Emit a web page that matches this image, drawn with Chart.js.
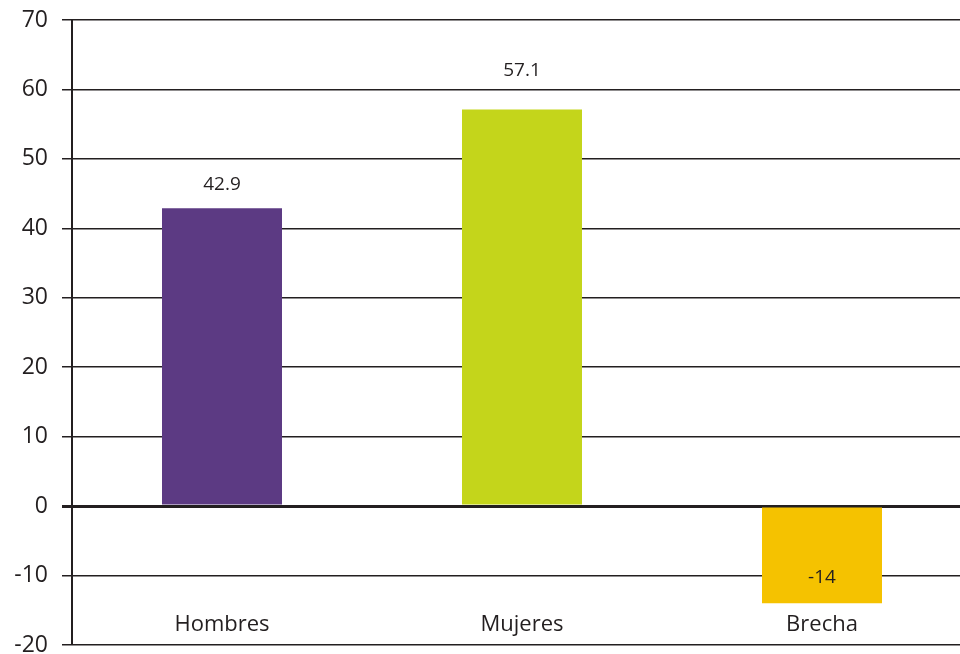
<!DOCTYPE html>
<html>
<head>
<meta charset="utf-8">
<script src="https://cdn.jsdelivr.net/npm/chart.js@4/dist/chart.umd.min.js"></script>
<style>
  html, body { margin: 0; padding: 0; background: #fff; overflow: hidden; }
  #wrap { width: 972px; height: 654px; }
</style>
</head>
<body>
<div id="wrap"><canvas id="myChart" width="972" height="654"></canvas></div>
<script>
// categorias y valores
const categories = ['Hombres', 'Mujeres', 'Brecha'];
const values = [42.9, 57.1, -14];
const valueLabels = ['42.9', '57.1', '-14'];
const barColors = ['#5c3a83', '#c4d51b', '#f5c200'];

const ink = '#231f20';
const fontName = '"Open Sans", "Liberation Sans", sans-serif';

// etiquetas de valor y de categoria dibujadas a mano
const labelsPlugin = {
    id: 'labelsPlugin',
    afterDatasetsDraw(chart) {
        const ctx = chart.ctx;
        const meta = chart.getDatasetMeta(0);
        const y = chart.scales.y;
        const x = chart.scales.x;
        const offsets = [24, 39, -26];
        ctx.save();
        ctx.fillStyle = ink;
        ctx.textAlign = 'center';
        ctx.textBaseline = 'middle';
        ctx.font = '19px ' + fontName;
        meta.data.forEach((bar, i) => {
            if (values[i] >= 0) {
                ctx.fillText(valueLabels[i], bar.x, bar.y - offsets[i]);
            } else {
                ctx.fillText(valueLabels[i], bar.x, bar.y + offsets[i]);
            }
        });
        ctx.font = '22px ' + fontName;
        categories.forEach((c, i) => {
            ctx.fillText(c, x.getPixelForValue(i), y.getPixelForValue(-17.1));
        });
        ctx.restore();
    }
};

const ctx = document.getElementById('myChart').getContext('2d');
const config = {
    type: 'bar',
    data: {
        labels: categories,
        datasets: [{
            data: values,
            backgroundColor: barColors,
            borderWidth: 0,
            barPercentage: 0.4,
            categoryPercentage: 1.0
        }]
    },
    options: {
        responsive: false,
        animation: false,
        layout: { padding: { top: 20, bottom: 9, left: 0, right: 0 } },
        plugins: {
            legend: { display: false },
            tooltip: { enabled: false }
        },
        scales: {
            x: {
                display: false
            },
            y: {
                min: -20,
                max: 70,
                ticks: {
                    stepSize: 10,
                    color: ink,
                    padding: 14,
                    font: { family: fontName, size: 23 }
                },
                grid: {
                    color: ink,
                    lineWidth: c => (c.tick && c.tick.value === 0 ? 3 : 1.5),
                    drawTicks: true,
                    tickLength: 10
                },
                border: { display: true, color: ink, width: 2 },
                afterFit: scale => {
                    scale.width = 72;
                    scale.paddingTop = 0;
                    scale.paddingBottom = 0;
                }
            }
        }
    },
    plugins: [labelsPlugin]
};

var myChart = new Chart(ctx, config);
</script>
</body>
</html>
